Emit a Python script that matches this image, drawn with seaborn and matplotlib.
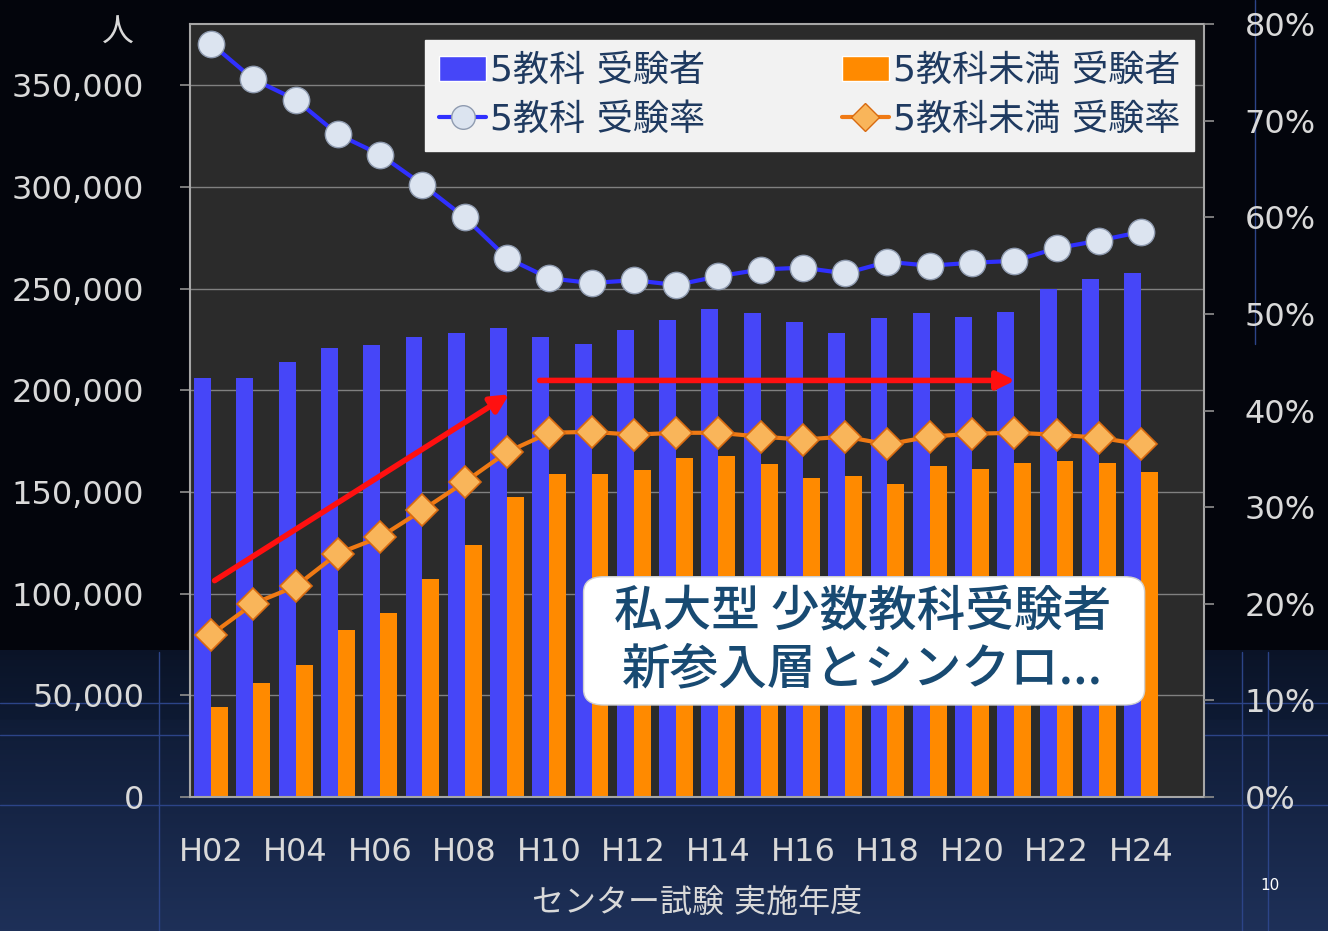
import numpy as np
import pandas as pd
import seaborn as sns
import matplotlib.pyplot as plt
from matplotlib.patches import Patch, FancyBboxPatch
from matplotlib.lines import Line2D
from matplotlib.ticker import FuncFormatter, PercentFormatter

# データ（センター試験 実施年度）
years = ['H%02d' % y for y in range(2, 25)]
n5 = [206000, 206000, 214000, 221000, 222000, 226000, 228000, 230500, 226000, 222500,
      229500, 234500, 240000, 238000, 233500, 228000, 235500, 238000, 236000, 238500,
      250000, 254500, 257500]
n_less = [44000, 56000, 65000, 82000, 90500, 107000, 124000, 147500, 159000, 159000,
          161000, 166500, 167500, 163500, 157000, 158000, 154000, 162500, 161500, 164000,
          165000, 164000, 160000]
rate5 = [0.780, 0.743, 0.722, 0.686, 0.665, 0.634, 0.600, 0.558, 0.537, 0.532,
         0.535, 0.530, 0.539, 0.546, 0.548, 0.542, 0.554, 0.550, 0.553, 0.555,
         0.568, 0.576, 0.585]
rate_less = [0.168, 0.200, 0.218, 0.252, 0.269, 0.297, 0.326, 0.357, 0.377, 0.378,
             0.375, 0.377, 0.377, 0.373, 0.370, 0.373, 0.365, 0.373, 0.376, 0.377,
             0.375, 0.372, 0.365]
series = ['5教科 受験者', '5教科未満 受験者']

df = pd.DataFrame({
    '年度': years * 2,
    '人数': n5 + n_less,
    '区分': [series[0]] * len(years) + [series[1]] * len(years),
})

blue = '#4646f8'
orange = '#ff8a00'
txt = '#d9d9d9'

sns.set_theme(style="dark")
plt.rcParams['font.family'] = ['DejaVu Sans', 'Noto Sans CJK JP']
plt.rcParams['axes.unicode_minus'] = False

fig = plt.figure(figsize=(13.28, 9.31), dpi=100, facecolor='#03050c')

# 背景
bg = fig.add_axes([0, 0, 1, 1], zorder=-10)
grad = np.concatenate([np.zeros(650), np.linspace(0.35, 0.5, 70), np.linspace(0.55, 1.0, 211)])
bg.imshow(grad[:, None], aspect='auto', extent=[0, 1, 0, 1], origin='upper',
          cmap=sns.blend_palette(['#03050c', '#0e1a33', '#1e3058'], as_cmap=True))
for y in [0.135, 0.21, 0.245]:
    bg.axhline(y, color='#2c4488', lw=1)
for x in [0.12, 0.935, 0.955]:
    bg.axvline(x, ymax=0.3, color='#2c4488', lw=1)
bg.axvline(0.945, ymin=0.63, color='#2c4488', lw=1)
bg.set_xlim(0, 1)
bg.set_ylim(0, 1)
bg.axis('off')

ax = fig.add_axes([0.143, 0.144, 0.764, 0.830])
ax.set_facecolor('#2b2b2b')
sns.barplot(data=df, x='年度', y='人数', hue='区分', palette=[blue, orange],
            saturation=1, width=0.8, ax=ax, legend=False, linewidth=0, edgecolor='none')
ax.set_ylim(0, 380000)
ax.set_yticks(range(0, 350001, 50000))
ax.yaxis.set_major_formatter(FuncFormatter(lambda v, p: f'{int(v):,}'))
ax.grid(axis='y', color='#808080', lw=1)
ax.grid(axis='x', visible=False)
ax.set_xticks(range(0, len(years), 2))
ax.set_xticklabels(years[::2])
ax.set_xlim(-0.5, len(years) + 0.5)
ax.set_xlabel('センター試験 実施年度', color=txt, fontsize=23, labelpad=14)
ax.set_ylabel('')
ax.tick_params(axis='y', colors=txt, labelsize=23, length=7, pad=26, color='#8a8a8a', left=True)
ax.tick_params(axis='x', colors=txt, labelsize=23, length=0, pad=29)
for s in ax.spines.values():
    s.set_color('#a6a6a6')
    s.set_linewidth(1.5)

ax2 = ax.twinx()
pos = np.arange(len(years))
sns.lineplot(x=pos, y=rate5, ax=ax2, color='#3030ff', lw=3, marker='o', markersize=19,
             markerfacecolor='#dce4f0', markeredgecolor='#8f9bb0', markeredgewidth=1)
sns.lineplot(x=pos, y=rate_less, ax=ax2, color='#f07a14', lw=3, marker='D', markersize=16,
             markerfacecolor='#f9b55a', markeredgecolor='#d86a10', markeredgewidth=1.2)
ax2.set_ylim(0, 0.8)
ax2.set_yticks(np.arange(0, 0.81, 0.1))
ax2.yaxis.set_major_formatter(PercentFormatter(1.0, decimals=0))
ax2.tick_params(axis='y', colors=txt, labelsize=23, length=7, pad=22, color='#8a8a8a', right=True)
ax2.grid(False)
ax2.set_ylabel('')
for s in ax2.spines.values():
    s.set_visible(False)

# 凡例
handles = [
    Patch(facecolor=blue, label='5教科 受験者'),
    Line2D([], [], color='#3030ff', lw=3, marker='o', markersize=17, markerfacecolor='#dce4f0',
           markeredgecolor='#8f9bb0', label='5教科 受験率'),
    Patch(facecolor=orange, label='5教科未満 受験者'),
    Line2D([], [], color='#f07a14', lw=3, marker='D', markersize=14, markerfacecolor='#f9b55a',
           markeredgecolor='#d86a10', label='5教科未満 受験率'),
]
leg = ax2.legend(handles=handles, ncol=2, loc='upper right', bbox_to_anchor=(0.99, 0.98),
                 fontsize=26, frameon=True, fancybox=False, framealpha=1, facecolor='#f2f2f2',
                 edgecolor='#f2f2f2', handlelength=1.3, handletextpad=0.1, columnspacing=3.8,
                 labelspacing=0.4, borderpad=0.4, borderaxespad=0)
for t in leg.get_texts():
    t.set_color('#1f3a60')

# 矢印
ax2.annotate('', xy=(0.317, 0.523), xytext=(0.022, 0.278), xycoords='axes fraction',
             arrowprops=dict(arrowstyle='-|>,head_length=0.9,head_width=0.45', color='#ff1010', lw=4))
ax2.annotate('', xy=(0.816, 0.539), xytext=(0.342, 0.539), xycoords='axes fraction',
             arrowprops=dict(arrowstyle='-|>,head_length=0.9,head_width=0.45', color='#ff1010', lw=4))

# 吹き出し
box = FancyBboxPatch((0.388, 0.119), 0.553, 0.166, boxstyle='round,pad=0,rounding_size=0.02',
                     transform=ax2.transAxes, facecolor='white', edgecolor='#d0d0d0', lw=1, zorder=5)
ax2.add_patch(box)
ax2.text(0.663, 0.203, '私大型 少数教科受験者\n新参入層とシンクロ...', transform=ax2.transAxes,
         ha='center', va='center', fontsize=35, fontweight='medium', color='#184a72',
         linespacing=1.2, zorder=6, family=['Noto Sans CJK JP', 'DejaVu Sans'])

fig.text(0.089, 0.965, '人', color=txt, fontsize=23, ha='center', va='center',
         family=['Noto Sans CJK JP'])
fig.text(0.956, 0.049, '10', color='white', fontsize=11, ha='center', va='center')

fig.savefig('out.png', dpi=100, facecolor=fig.get_facecolor())
